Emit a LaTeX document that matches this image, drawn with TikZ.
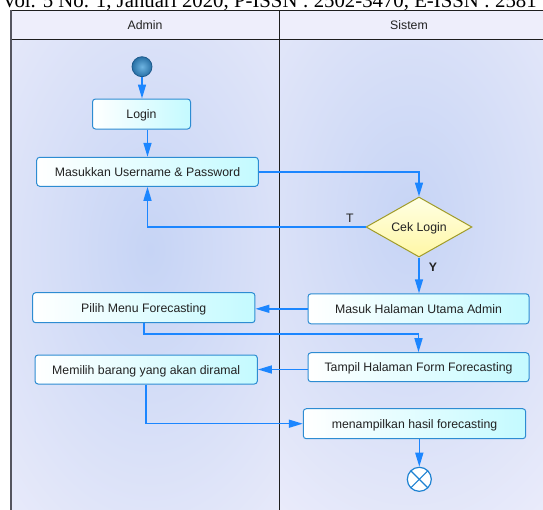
\documentclass[tikz,border=0pt]{standalone}
\usepackage{fontspec}
\setmainfont{Liberation Sans}
\newfontfamily\headserif{Liberation Serif}
\usetikzlibrary{shapes.geometric,arrows.meta}
\definecolor{lanebg}{RGB}{238,238,251}
\definecolor{blobc}{RGB}{198,212,245}
\definecolor{flow}{RGB}{28,134,255}
\definecolor{boxline}{RGB}{45,140,210}
\definecolor{boxcyan}{RGB}{196,250,255}
\definecolor{txt}{RGB}{34,34,34}
\definecolor{framec}{RGB}{30,30,30}
\definecolor{leftframe}{RGB}{85,85,95}
\definecolor{dline}{RGB}{160,155,40}
\definecolor{dtop}{RGB}{255,255,228}
\definecolor{dbot}{RGB}{255,247,165}
\definecolor{startin}{RGB}{110,180,225}
\definecolor{startout}{RGB}{40,112,165}
\definecolor{startline}{RGB}{30,90,140}
\definecolor{endline}{RGB}{30,130,210}
\begin{document}
\begin{tikzpicture}[x=1pt,y=-1pt,
  font=\fontsize{12.3}{14}\selectfont, text=txt,
  act/.style={draw=boxline, line width=1pt, rounded corners=3pt, left color=white, right color=boxcyan, minimum height=30pt, inner sep=0pt, text height=9pt, text depth=0pt},
  decision/.style={shape=diamond, draw=dline, line width=1pt, top color=dtop, bottom color=dbot, inner sep=0pt, aspect=1.77, minimum width=106pt, minimum height=60pt, text height=9pt, text depth=0pt},
  flowline/.style={draw=flow, line width=1.5pt, -{Triangle[length=14pt,width=8pt]}},
  startnode/.style={circle, minimum size=20pt, inner sep=0pt, inner color=startin, outer color=startout, draw=startline, line width=0.8pt},
  endnode/.style={circle, minimum size=24pt, inner sep=0pt, fill=white, draw=endline, line width=1.2pt,
    path picture={\draw[endline, line width=1.2pt] (path picture bounding box.center) ++(-8.5pt,-8.5pt) -- ++(17pt,17pt);
                  \draw[endline, line width=1.2pt] (path picture bounding box.center) ++(-8.5pt,8.5pt) -- ++(17pt,-17pt);}},
  lbl/.style={inner sep=0pt, text=txt, text height=9pt, text depth=0pt}
]
\useasboundingbox (0,0) rectangle (543,509);
\clip (0,0) rectangle (543,509);
\fill[white] (0,0) rectangle (543,509);
% lanes background
\fill[lanebg] (11,10) rectangle (560,520);
\begin{scope}
  \clip (11,39.3) rectangle (279,520);
  \shade[inner color=blobc, outer color=lanebg] (150,250) ellipse (250 and 420);
\end{scope}
\begin{scope}
  \clip (279,39.3) rectangle (560,520);
  \shade[inner color=blobc, outer color=lanebg] (410,220) ellipse (260 and 400);
\end{scope}
% frame
\draw[framec, line width=1pt] (11,10) -- (560,10);
\draw[framec, line width=1pt] (11,39.3) -- (560,39.3);
\draw[framec, line width=1pt] (279,10) -- (279,520);
\draw[leftframe, line width=2pt] (11,9.5) -- (11,520);
% journal header (cut off at the top, as in the source page)
\node[anchor=base east, font=\headserif\fontsize{20.8}{24}\selectfont, text=black, inner sep=0pt] (journal) at (537,7) {Vol. 5 No. 1, Januari 2020, P-ISSN : 2502-3470, E-ISSN : 2581};
% lane titles
\node[lbl] (admin) at (145,25) {Admin};
\node[lbl] (sistem) at (409,25) {Sistem};
% nodes
\node[startnode] (start) at (142,66.7) {};
\node[act, minimum width=98pt] (login) at (141.5,114) {Login};
\node[act, minimum width=221.6pt, minimum height=29pt] (user) at (147.5,171.8) {Masukkan Username \& Password};
\node[decision] (cek) at (419,227) {Cek Login};
\node[act, minimum width=221pt] (masuk) at (418.5,308.8) {Masuk Halaman Utama Admin};
\node[act, minimum width=222.3pt] (pilih) at (143.8,307.7) {Pilih Menu Forecasting};
\node[act, minimum width=221pt, minimum height=29pt] (tampil) at (418.5,367.2) {Tampil Halaman Form Forecasting};
\node[act, minimum width=222.3pt, minimum height=29pt] (memilih) at (146.2,369.5) {Memilih barang yang akan diramal};
\node[act, minimum width=222.4pt] (hasil) at (414.5,423.7) {menampilkan hasil forecasting};
\node[endnode] (end) at (419.3,479.3) {};
% labels
\node[lbl] (tlabel) at (350,218) {T};
\node[lbl, font=\fontsize{12.3}{14}\selectfont\bfseries] (ylabel) at (433,267) {Y};
% connectors
\draw[flowline] (start.south) -- (start.south |- login.north);
\draw[flowline] (login.south -| user.north) -- (user.north);
\draw[flowline] (user.east) -| (cek.north);
\draw[flowline] (cek.west) -| (user.south);
\draw[flowline] (cek.south) -- (cek.south |- masuk.north);
\draw[flowline] (masuk.west) -- (masuk.west -| pilih.east);
\draw[flowline] (pilih.south) -- ++(0,10.6) -| (tampil.north);
\draw[flowline] (tampil.west |- memilih.east) -- (memilih.east);
\draw[flowline] (memilih.south) |- (hasil.west);
\draw[flowline] (hasil.south -| end.north) -- (end.north);
\end{tikzpicture}
\end{document}
